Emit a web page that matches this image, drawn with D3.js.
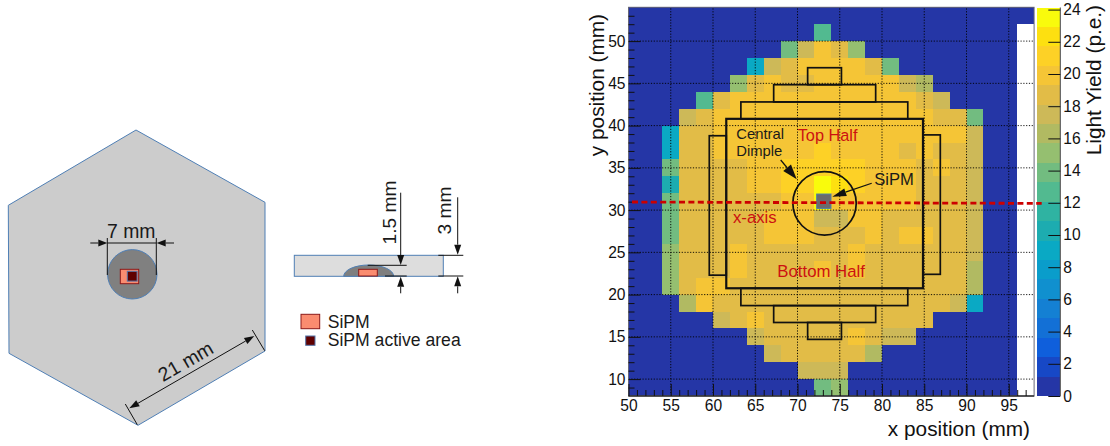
<!DOCTYPE html>
<html>
    <head>
        <script src="https://d3js.org/d3.v7.min.js"></script>
        <style type="text/css">
            body {
                background: #fff;
                margin: 0;
            }

            svg {
                display: block;
                font-family: "Liberation Sans", sans-serif;
            }

            .axis path {
                display: none;
            }

            .axis line {
                stroke: #111;
            }

            .axis text {
                font-size: 15.6px;
                font-family: "Liberation Sans", sans-serif;
                fill: #111;
            }

            .grid line {
                stroke: #000;
                stroke-dasharray: 1.2 1.6;
                opacity: 0.9;
            }
        </style>
    </head>

    <body>
        <svg id="chart" width="1110" height="446" xmlns="http://www.w3.org/2000/svg"></svg>

        <script type="text/javascript">
        // left edge of each x bin (mm), 2 mm wide
        const xBins = [50, 52, 54, 56, 58, 60, 62, 64, 66, 68, 70, 72, 74, 76, 78, 80, 82, 84, 86, 88, 90, 92, 94, 96];

        // light yield (p.e.) per row, name is the lower edge of the y bin. null = empty bin
        const row52 = [.5, .5, .5, .5, .5, .5, .5, .5, .5, .5, .5, .5, .5, .5, .5, .5, .5, .5, .5, .5, .5, .5, .5, .5];
        const row50 = [.5, .5, .5, .5, .5, .5, .5, .5, .5, .5, .5, 12.7, .5, .5, .5, .5, .5, .5, .5, .5, .5, .5, .5, null];
        const row48 = [.5, .5, .5, .5, .5, .5, .5, .5, .5, 13.9, 17.5, 19.9, 18.7, 15.1, .5, .5, .5, .5, .5, .5, .5, .5, .5, null];
        const row46 = [.5, .5, .5, .5, .5, .5, .5, 9.1, 17.5, 18.7, 19.9, 19.9, 19.9, 19.9, 18.7, 13.9, .5, .5, .5, .5, .5, .5, .5, null];
        const row44 = [.5, .5, .5, .5, .5, .5, 15.1, 18.7, 19.9, 18.7, 18.7, 19.9, 19.9, 19.9, 19.9, 19.9, 17.5, 16.3, .5, .5, .5, .5, .5, null];
        const row42 = [.5, .5, .5, .5, 12.7, 18.7, 19.9, 19.9, 19.9, 19.9, 19.9, 19.9, 19.9, 19.9, 19.9, 19.9, 19.9, 18.7, 17.5, .5, .5, .5, .5, null];
        const row40 = [.5, .5, .5, 17.5, 18.7, 19.9, 19.9, 19.9, 19.9, 19.9, 19.9, 19.9, 19.9, 19.9, 19.9, 19.9, 19.9, 19.9, 18.7, 18.7, 13.9, .5, .5, null];
        const row38 = [.5, .5, 9.1, 18.7, 18.7, 19.9, 19.9, 19.9, 19.9, 19.9, 19.9, 19.9, 19.9, 19.9, 19.9, 19.9, 19.9, 19.9, 19.9, 19.9, 17.5, .5, .5, null];
        const row36 = [.5, .5, 9.1, 18.7, 18.7, 19.9, 19.9, 19.9, 19.9, 19.9, 19.9, 21.1, 19.9, 19.9, 19.9, 19.9, 18.7, 19.9, 18.7, 18.7, 17.5, .5, .5, null];
        const row34 = [.5, .5, 13.9, 18.7, 18.7, 18.7, 18.7, 19.9, 19.9, 21.1, 21.1, 21.1, 21.1, 21.1, 19.9, 19.9, 19.9, 18.7, 19.9, 18.7, 17.5, .5, .5, null];
        const row32 = [.5, .5, 10.3, 18.7, 18.7, 18.7, 18.7, 19.9, 19.9, 21.1, 21.1, 23.5, 22.3, 21.1, 19.9, 19.9, 19.9, 18.7, 18.7, 18.7, 17.5, .5, .5, null];
        const row30 = [.5, .5, 13.9, 18.7, 18.7, 18.7, 18.7, 18.7, 18.7, 19.9, 19.9, 23.5, 19.9, 19.9, 19.9, 19.9, 19.9, 18.7, 18.7, 18.7, 17.5, .5, .5, null];
        const row28 = [.5, .5, 13.9, 18.7, 18.7, 18.7, 18.7, 18.7, 19.9, 19.9, 19.9, 17.5, 17.5, 19.9, 19.9, 18.7, 18.7, 18.7, 18.7, 18.7, 17.5, .5, .5, null];
        const row26 = [.5, .5, 13.9, 18.7, 18.7, 18.7, 18.7, 18.7, 19.9, 19.9, 19.9, 18.7, 18.7, 18.7, 19.9, 18.7, 19.9, 19.9, 18.7, 18.7, 17.5, .5, .5, null];
        const row24 = [.5, .5, 15.1, 18.7, 18.7, 18.7, 19.9, 18.7, 18.7, 18.7, 18.7, 18.7, 18.7, 19.9, 18.7, 18.7, 18.7, 18.7, 18.7, 18.7, 17.5, .5, .5, null];
        const row22 = [.5, .5, 15.1, 18.7, 18.7, 18.7, 19.9, 18.7, 18.7, 18.7, 18.7, 19.9, 18.7, 19.9, 18.7, 18.7, 18.7, 18.7, 18.7, 18.7, 16.3, .5, .5, null];
        const row20 = [.5, .5, 15.1, 18.7, 19.9, 19.9, 18.7, 18.7, 18.7, 18.7, 18.7, 18.7, 18.7, 18.7, 18.7, 18.7, 18.7, 18.7, 18.7, 18.7, 16.3, .5, .5, null];
        const row18 = [.5, .5, .5, 16.3, 19.9, 18.7, 18.7, 18.7, 18.7, 18.7, 18.7, 18.7, 18.7, 18.7, 18.7, 18.7, 18.7, 18.7, 18.7, 17.5, 9.1, .5, .5, null];
        const row16 = [.5, .5, .5, .5, .5, 17.5, 18.7, 19.9, 18.7, 18.7, 18.7, 18.7, 18.7, 18.7, 18.7, 18.7, 18.7, 18.7, .5, .5, .5, .5, .5, null];
        const row14 = [.5, .5, .5, .5, .5, .5, .5, 17.5, 18.7, 18.7, 18.7, 18.7, 18.7, 19.9, 18.7, 17.5, 17.5, .5, .5, .5, .5, .5, .5, null];
        const row12 = [.5, .5, .5, .5, .5, .5, .5, .5, 17.5, 18.7, 18.7, 18.7, 18.7, 18.7, 16.3, .5, .5, .5, .5, .5, .5, .5, .5, null];
        const row10 = [.5, .5, .5, .5, .5, .5, .5, .5, .5, .5, 17.5, 17.5, 17.5, .5, .5, .5, .5, .5, .5, .5, .5, .5, .5, null];
        const row08 = [.5, .5, .5, .5, .5, .5, .5, .5, .5, .5, .5, 13.9, 15.1, .5, .5, .5, .5, .5, .5, .5, .5, .5, .5, null];

        const rows = [
            [52, row52], [50, row50], [48, row48], [46, row46], [44, row44], [42, row42],
            [40, row40], [38, row38], [36, row36], [34, row34], [32, row32], [30, row30],
            [28, row28], [26, row26], [24, row24], [22, row22], [20, row20], [18, row18],
            [16, row16], [14, row14], [12, row12], [10, row10], [8, row08]
        ];

        // palette of the z axis, 20 bands from bottom to top
        const zMax = 24.13;
        const bandColors = [
            "#2536a6", "#1748c6", "#0f5fdc", "#1370d6", "#1480d3",
            "#1090cf", "#0a9dcb", "#0aa9c4", "#1dacb0", "#2fb3a2",
            "#52ba90", "#72bc80", "#95bf70", "#b1ba62", "#cdb958",
            "#e2bc47", "#f5c536", "#fdd126", "#fde010", "#f9fb0c"
        ];

        const xTicks = [50, 55, 60, 65, 70, 75, 80, 85, 90, 95];
        const yTicks = [10, 15, 20, 25, 30, 35, 40, 45, 50];
        const zTicks = [0, 2, 4, 6, 8, 10, 12, 14, 16, 18, 20, 22, 24];

        // black outlines of the tile drawn over the map, in mm: x0, x1, y0, y1
        const tileOutlines = [
            [61.57, 84.85, 20.75, 40.8],
            [59.56, 61.57, 22.3, 38.8],
            [84.85, 86.9, 22.4, 38.9],
            [63.3, 83.05, 40.8, 42.8],
            [67.18, 79.25, 42.8, 44.84],
            [71.2, 75.2, 44.84, 46.85],
            [63.3, 83.05, 18.7, 20.75],
            [67.18, 79.25, 16.7, 18.7],
            [71.2, 75.2, 14.7, 16.7]
        ];

        const svg = d3.select("#chart");

        const x = d3.scaleLinear().domain([50, 98]).range([628.5, 1034.1]);
        const y = d3.scaleLinear().domain([8, 54]).range([396, 7.3]);
        const zAxisY = d3.scaleLinear().domain([0, zMax]).range([396, 7.5]);
        const color = d3.scaleQuantize().domain([0, zMax]).range(bandColors);

        // ---- heat map
        const cells = [];
        rows.forEach(([yLow, values]) => {
            values.forEach((v, i) => {
                if (v !== null) cells.push({ x: xBins[i], y: yLow, v: v });
            });
        });

        svg.append("g")
            .selectAll("rect")
            .data(cells)
            .join("rect")
            .attr("x", d => x(d.x))
            .attr("y", d => y(d.y + 2))
            .attr("width", d => x(d.x + 2) - x(d.x))
            .attr("height", d => y(d.y) - y(d.y + 2))
            .attr("fill", d => color(d.v))
            .attr("shape-rendering", "crispEdges");

        // ---- dotted grid
        const grid = svg.append("g").attr("class", "grid");
        grid.selectAll(".gx")
            .data(xTicks.slice(1))
            .join("line")
            .attr("x1", d => x(d)).attr("x2", d => x(d))
            .attr("y1", y.range()[0]).attr("y2", y.range()[1]);
        grid.selectAll(".gy")
            .data(yTicks)
            .join("line")
            .attr("y1", d => y(d)).attr("y2", d => y(d))
            .attr("x1", x.range()[0]).attr("x2", x.range()[1]);

        // ---- frame and axes
        svg.append("rect")
            .attr("x", x.range()[0]).attr("y", y.range()[1])
            .attr("width", x.range()[1] - x.range()[0])
            .attr("height", y.range()[0] - y.range()[1])
            .attr("fill", "none").attr("stroke", "#667").attr("stroke-width", 1);
        svg.append("line")
            .attr("x1", x.range()[0]).attr("x2", x.range()[1])
            .attr("y1", 396).attr("y2", 396)
            .attr("stroke", "#333").attr("stroke-width", 1.5);

        const xMinor = d3.range(51, 98).filter(d => d % 5 !== 0);
        const yMinor = d3.range(9, 54).filter(d => d % 5 !== 0);

        svg.append("g").attr("class", "axis")
            .attr("transform", "translate(0,396)")
            .call(d3.axisBottom(x).tickValues(xMinor).tickSizeInner(-6).tickSizeOuter(0).tickFormat(""));
        svg.append("g").attr("class", "axis")
            .attr("transform", "translate(0,396)")
            .call(d3.axisBottom(x).tickValues(xTicks).tickSizeInner(-12).tickSizeOuter(0).tickPadding(4).tickFormat(d3.format("d")));
        svg.append("g").attr("class", "axis")
            .attr("transform", "translate(628.5,0)")
            .call(d3.axisLeft(y).tickValues(yMinor).tickSizeInner(-6).tickSizeOuter(0).tickFormat(""));
        svg.append("g").attr("class", "axis")
            .attr("transform", "translate(628.5,0)")
            .call(d3.axisLeft(y).tickValues(yTicks).tickSizeInner(-12).tickSizeOuter(0).tickPadding(3).tickFormat(d3.format("d")));

        svg.append("text")
            .attr("x", 1030).attr("y", 436)
            .attr("text-anchor", "end").attr("font-size", 20.8).attr("fill", "#111")
            .text("x position (mm)");
        svg.append("text")
            .attr("transform", "translate(604,14) rotate(-90)")
            .attr("text-anchor", "end").attr("font-size", 20.8).attr("fill", "#111")
            .text("y position (mm)");

        // ---- colour bar
        const barX = 1037.3, barW = 23;
        svg.append("g")
            .selectAll("rect")
            .data(bandColors)
            .join("rect")
            .attr("x", barX)
            .attr("width", barW)
            .attr("y", (d, i) => zAxisY((i + 1) * zMax / bandColors.length))
            .attr("height", zAxisY(0) - zAxisY(zMax / bandColors.length))
            .attr("fill", d => d)
            .attr("shape-rendering", "crispEdges");
        svg.append("line")
            .attr("x1", barX + barW).attr("x2", barX + barW)
            .attr("y1", 7.5).attr("y2", 396)
            .attr("stroke", "#444").attr("stroke-width", 1);
        svg.append("g").attr("class", "axis")
            .attr("transform", `translate(${barX + barW},0)`)
            .call(d3.axisRight(zAxisY).tickValues(zTicks).tickSizeInner(-12).tickSizeOuter(0).tickPadding(3));
        svg.append("text")
            .attr("transform", "translate(1101,5) rotate(-90)")
            .attr("text-anchor", "end").attr("font-size", 20.8).attr("fill", "#111")
            .text("Light Yield (p.e.)");

        // ---- overlays on the map
        const tiles = svg.append("g").attr("fill", "none").attr("stroke", "#111");
        tiles.selectAll("rect")
            .data(tileOutlines)
            .join("rect")
            .attr("x", d => x(d[0]))
            .attr("y", d => y(d[3]))
            .attr("width", d => x(d[1]) - x(d[0]))
            .attr("height", d => y(d[2]) - y(d[3]))
            .attr("stroke-width", (d, i) => i === 0 ? 2.2 : 1.7);

        svg.append("circle")
            .attr("cx", x(73.2)).attr("cy", y(30.8)).attr("r", 31.7)
            .attr("fill", "none").attr("stroke", "#111").attr("stroke-width", 1.7);

        svg.append("rect")
            .attr("x", x(72.27)).attr("y", y(31.9))
            .attr("width", x(73.96) - x(72.27)).attr("height", y(30.2) - y(31.9))
            .attr("fill", "#6b6b6b").attr("stroke", "#4c7fa8").attr("stroke-width", 1);

        svg.append("line")
            .attr("x1", 632).attr("y1", 202).attr("x2", 1041.7).attr("y2", 203.4)
            .attr("stroke", "#cc0000").attr("stroke-width", 2.8).attr("stroke-dasharray", "6 3.4");

        function arrow(x1, y1, x2, y2, len, wid, sw) {
            const a = Math.atan2(y2 - y1, x2 - x1);
            const bx = x2 - len * Math.cos(a), by = y2 - len * Math.sin(a);
            const nx = -Math.sin(a) * wid / 2, ny = Math.cos(a) * wid / 2;
            svg.append("line")
                .attr("x1", x1).attr("y1", y1).attr("x2", bx).attr("y2", by)
                .attr("stroke", "#111").attr("stroke-width", sw || 1);
            svg.append("polygon")
                .attr("points", `${x2},${y2} ${bx + nx},${by + ny} ${bx - nx},${by - ny}`)
                .attr("fill", "#111");
        }

        function label(str, px, py, size, fill) {
            return svg.append("text")
                .attr("x", px).attr("y", py)
                .attr("font-size", size).attr("fill", fill || "#1a1a1a")
                .text(str);
        }

        label("Central", 736.3, 139.3, 14.8);
        label("Dimple", 736.3, 156, 14.8);
        label("Top Half", 797.7, 141, 16.3, "#cc1111");
        label("Bottom Half", 777.3, 276.7, 16.8, "#cc1111");
        label("x-axis", 733, 223.3, 16.7, "#cc1111");
        label("SiPM", 874.3, 185, 16.6);
        arrow(780.7, 160, 796.7, 179.3, 15, 10, 1.2);
        arrow(871.7, 183.3, 832.3, 196.7, 14, 8, 1.2);

        // ---- left drawing: hexagonal tile, top view
        const blueEdge = "#4f7fb5", sipmFill = "#fa8c70", sipmEdge = "#8b1a1a", activeFill = "#5f0000", activeEdge = "#5577aa";

        svg.append("polygon")
            .attr("points", "136,130 265,202.3 265,351 138,425.3 9,353.3 8.3,205.3")
            .attr("fill", "#cccccc").attr("stroke", blueEdge).attr("stroke-width", 1);
        svg.append("circle")
            .attr("cx", 132.3).attr("cy", 274.3).attr("r", 24.7)
            .attr("fill", "#808080").attr("stroke", blueEdge).attr("stroke-width", 1);
        svg.append("rect")
            .attr("x", 120.3).attr("y", 269.3).attr("width", 18.4).attr("height", 14.4)
            .attr("fill", sipmFill).attr("stroke", sipmEdge).attr("stroke-width", 1);
        svg.append("rect")
            .attr("x", 127.3).attr("y", 271.3).attr("width", 9.8).attr("height", 9.8)
            .attr("fill", activeFill).attr("stroke", activeEdge).attr("stroke-width", 1);

        function segment(x1, y1, x2, y2) {
            svg.append("line")
                .attr("x1", x1).attr("y1", y1).attr("x2", x2).attr("y2", y2)
                .attr("stroke", "#111").attr("stroke-width", 1);
        }

        segment(107.3, 238, 107.3, 275);
        segment(156.3, 238, 156.3, 275);
        segment(107.3, 243, 156.3, 243);
        arrow(90.3, 243, 107.3, 243, 9, 7);
        arrow(174, 243, 156.7, 243, 9, 7);
        label("7 mm", 107, 238.3, 19.4);

        segment(125.3, 404, 137.3, 424.7);
        segment(252.3, 330, 264.7, 350.7);
        arrow(190, 373.2, 129.3, 408.3, 10, 7);
        arrow(190, 373.2, 254.3, 336, 10, 7);
        svg.append("text")
            .attr("transform", "translate(189,367.3) rotate(-30)")
            .attr("text-anchor", "middle").attr("font-size", 19.6).attr("fill", "#1a1a1a")
            .text("21 mm");

        // ---- middle drawing: side view
        svg.append("rect")
            .attr("x", 294.3).attr("y", 255.3).attr("width", 149).attr("height", 21)
            .attr("fill", "#dddddd").attr("stroke", blueEdge).attr("stroke-width", 1);
        svg.append("path")
            .attr("d", "M343.7,276.3 A25,11.3 0 0 1 393.7,276.3 Z")
            .attr("fill", "#7f7f7f").attr("stroke", blueEdge).attr("stroke-width", 1);
        svg.append("rect")
            .attr("x", 358.7).attr("y", 269.3).attr("width", 18.6).attr("height", 6.7)
            .attr("fill", sipmFill).attr("stroke", sipmEdge).attr("stroke-width", 1);

        segment(367.7, 265.3, 406.7, 265.3);
        segment(385, 276, 406.7, 276);
        segment(438.3, 255.3, 463.3, 255.3);
        segment(438.3, 276, 463.3, 276);
        arrow(400.7, 192.7, 400.7, 265, 10, 7);
        arrow(400.7, 293.3, 400.7, 276.7, 10, 7);
        arrow(457.7, 197.3, 457.7, 254.7, 10, 7);
        arrow(457.7, 293.3, 457.7, 276.3, 10, 7);

        svg.append("text")
            .attr("transform", "translate(395.7,244.5) rotate(-90)")
            .attr("font-size", 19.2).attr("fill", "#1a1a1a").text("1.5 mm");
        svg.append("text")
            .attr("transform", "translate(450.7,234.5) rotate(-90)")
            .attr("font-size", 19.2).attr("fill", "#1a1a1a").text("3 mm");

        svg.append("rect")
            .attr("x", 301).attr("y", 314.3).attr("width", 18.7).attr("height", 14.4)
            .attr("fill", sipmFill).attr("stroke", sipmEdge).attr("stroke-width", 1);
        svg.append("rect")
            .attr("x", 305.7).attr("y", 336).attr("width", 9.3).attr("height", 9.3)
            .attr("fill", activeFill).attr("stroke", activeEdge).attr("stroke-width", 1);
        label("SiPM", 327.7, 328, 17.6);
        label("SiPM active area", 327.7, 346, 17.6);
        </script>
    </body>
</html>
